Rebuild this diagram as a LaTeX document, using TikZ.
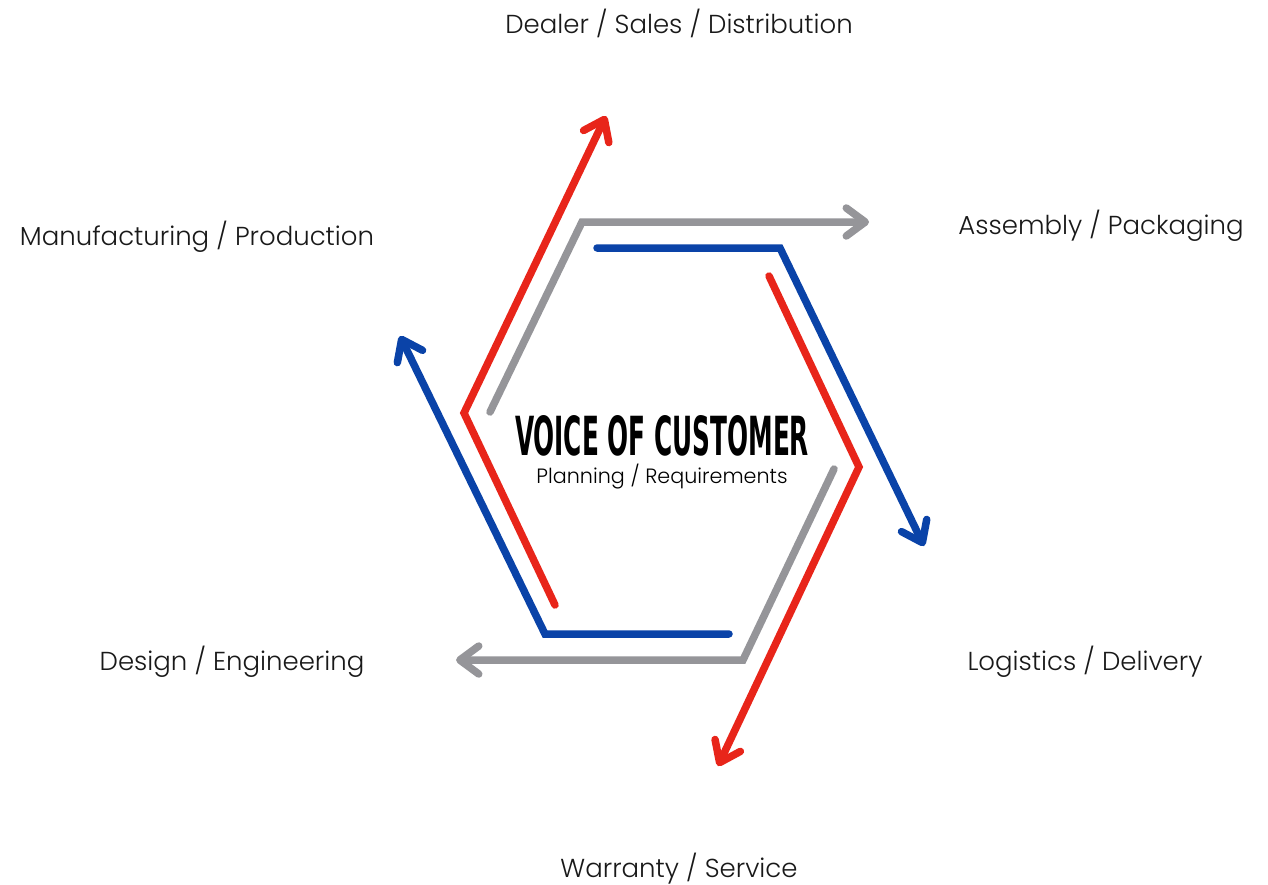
\documentclass[tikz,border=0pt]{standalone}
\usepackage{fontspec}
\IfFontExistsTF{Poppins Light}{\setmainfont{Poppins Light}}{\setmainfont{Poppins}}
\newfontfamily\headfont{DejaVu Sans Condensed}
\usetikzlibrary{arrows.meta}
\definecolor{vred}{HTML}{E8251A}
\definecolor{vblue}{HTML}{0A43A8}
\definecolor{vgray}{HTML}{959599}
\begin{document}
\begin{tikzpicture}[x=1pt,y=-1pt,
  flow/.style={line width=7.5pt,line cap=round,line join=miter},
  tip/.style={-{Straight Barb[length=19pt,width=28pt,round]}},
  lab/.style={font=\fontsize{26}{30}\selectfont,text=black!90,inner sep=0pt,anchor=base}]
\useasboundingbox[fill=white] (0,0) rectangle (1268,884);
% coordinates
\coordinate (g1a) at (490,412);
\coordinate (g1b) at (582,222);
\coordinate (g1c) at (869,222);
\coordinate (b1a) at (597,248);
\coordinate (b1b) at (780,248);
\coordinate (b1c) at (924,546);
\coordinate (r1a) at (769,276);
\coordinate (r1b) at (859,467);
\coordinate (r1c) at (718,766);
\coordinate (g2a) at (834,469);
\coordinate (g2b) at (743,660);
\coordinate (g2c) at (456,660);
\coordinate (b2a) at (729,634);
\coordinate (b2b) at (545,634);
\coordinate (b2c) at (400,336);
\coordinate (r2a) at (555,605);
\coordinate (r2b) at (464,413);
\coordinate (r2c) at (606,116);
% lines
\draw[flow,vgray,tip] (g1a) -- (g1b) -- (g1c);
\draw[flow,vblue,tip] (b1a) -- (b1b) -- (b1c);
\draw[flow,vred,tip] (r1a) -- (r1b) -- (r1c);
\draw[flow,vgray,tip] (g2a) -- (g2b) -- (g2c);
\draw[flow,vblue,tip] (b2a) -- (b2b) -- (b2c);
\draw[flow,vred,tip] (r2a) -- (r2b) -- (r2c);
% center text
\node[inner sep=0pt,anchor=base] (voc) at (662,455) {\resizebox{294pt}{40pt}{\headfont\bfseries VOICE OF CUSTOMER}};
\node[inner sep=0pt,anchor=base,font=\fontsize{20.7}{22}\selectfont] (plan) at (662,483) {Planning / Requirements};
% labels
\node[lab] (dealer) at (679,33) {Dealer / Sales / Distribution};
\node[lab] (manu) at (197,245) {Manufacturing / Production};
\node[lab] (assem) at (1101,234) {Assembly / Packaging};
\node[lab] (design) at (232,670) {Design / Engineering};
\node[lab] (logi) at (1085,670) {Logistics / Delivery};
\node[lab] (warr) at (679,877) {Warranty / Service};
\end{tikzpicture}
\end{document}
